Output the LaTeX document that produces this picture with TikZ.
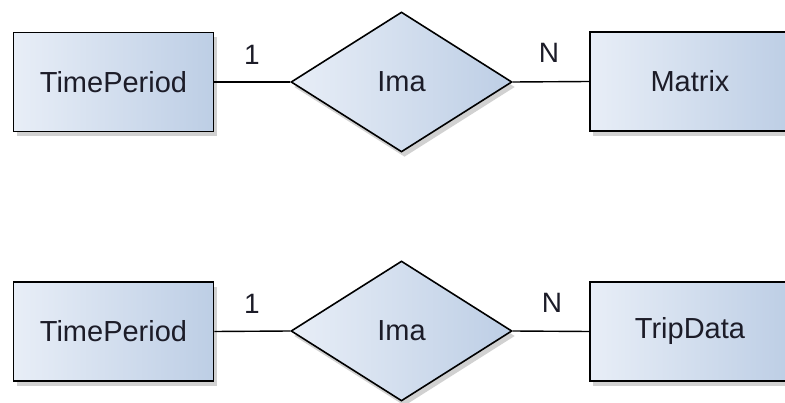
\documentclass[tikz,border=0pt]{standalone}
\usepackage{fontspec}
\setmainfont{Liberation Sans}
\usepackage{xcolor}
\usepackage{tikz}
\usetikzlibrary{positioning, shapes.geometric, shadows}

\definecolor{entlight}{HTML}{E8EEF7}
\definecolor{entdark}{HTML}{BDCEE5}
\definecolor{txtdark}{HTML}{1C1C28}

\begin{document}
\begin{tikzpicture}[x=1pt, y=1pt,
    entity/.style={rectangle, draw=black, line width=1.6pt,
      left color=entlight, right color=entdark,
      minimum width=200pt, minimum height=99pt, inner sep=0pt,
      font=\fontsize{29}{34}\selectfont, text=txtdark,
      drop shadow={opacity=0.3, fill=black!60, shadow xshift=3pt, shadow yshift=-5pt}},
    relation/.style={diamond, draw=black, line width=1.6pt,
      left color=entlight, right color=entdark,
      minimum width=221pt, minimum height=140pt, inner sep=0pt,
      font=\fontsize{29}{34}\selectfont, text=txtdark,
      drop shadow={opacity=0.3, fill=black!60, shadow xshift=3pt, shadow yshift=-5pt}},
    link/.style={draw=black, line width=1.4pt},
    card/.style={font=\fontsize{28}{32}\selectfont, text=txtdark}]
  \useasboundingbox (0,0) rectangle (785,402);
  \clip (0,0) rectangle (785,402);
  % Row 1: TimePeriod -- Ima -- Matrix
  \node[entity]   (tp1)  at (113.5,320) {TimePeriod};
  \node[relation] (ima1) at (401.5,320) {Ima};
  \node[entity]   (mat)  at (690,320.5) {Matrix};
  \draw[link] (tp1.east) -- (ima1.west);
  \draw[link] (ima1.east) -- (mat.west);
  \node[card] (c1a) at (252,347) {1};
  \node[card] (c1b) at (549,349) {N};
  % Row 2: TimePeriod -- Ima -- TripData
  \node[entity]   (tp2)  at (113.5,70.5) {TimePeriod};
  \node[relation] (ima2) at (401.5,71) {Ima};
  \node[entity]   (trip) at (690,70.5) {TripData};
  \draw[link] (tp2.east) -- (ima2.west);
  \draw[link] (ima2.east) -- (trip.west);
  \node[card] (c2a) at (252,98) {1};
  \node[card] (c2b) at (552,99) {N};
\end{tikzpicture}
\end{document}
